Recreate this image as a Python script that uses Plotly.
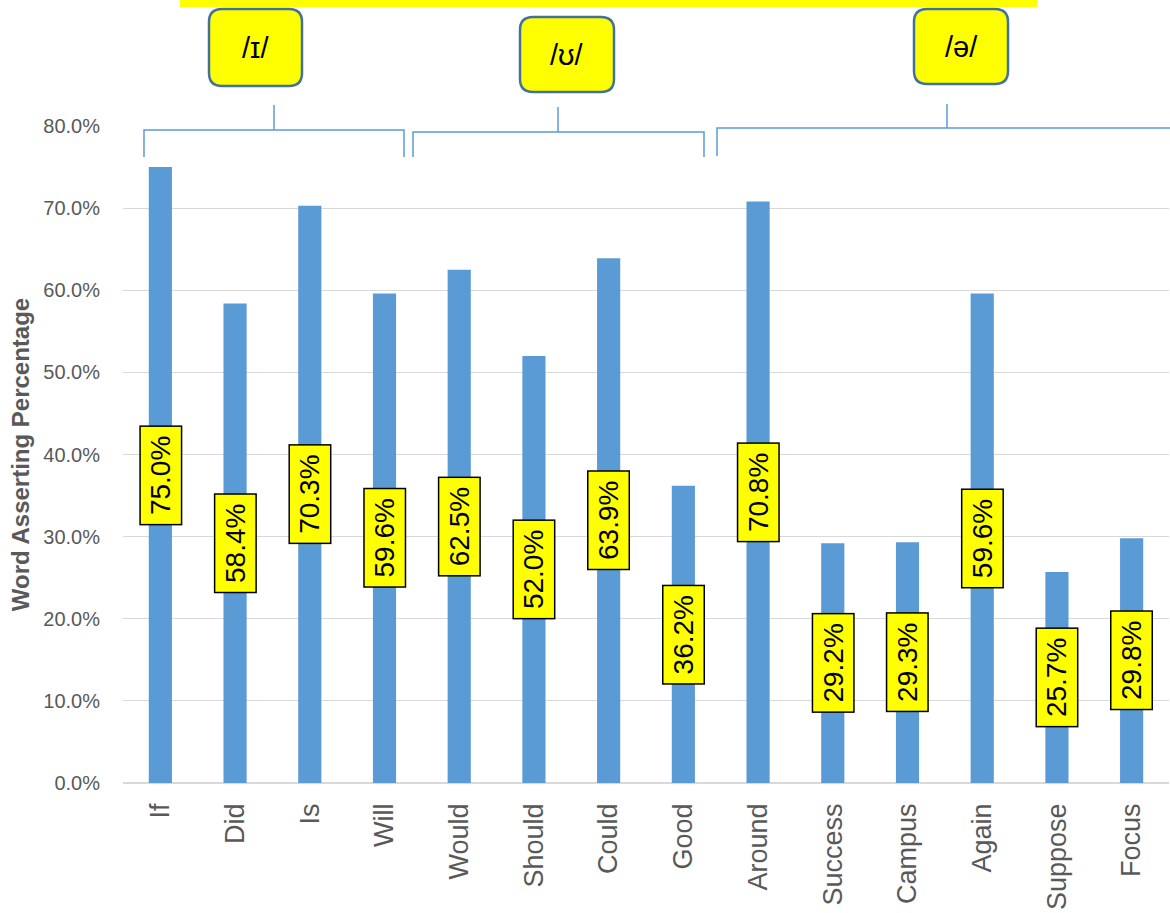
import plotly.graph_objects as go

# Words and the share of times each was asserted
words = ["If", "Did", "Is", "Will", "Would", "Should", "Could", "Good",
         "Around", "Success", "Campus", "Again", "Suppose", "Focus"]
percent = [75.0, 58.4, 70.3, 59.6, 62.5, 52.0, 63.9, 36.2,
           70.8, 29.2, 29.3, 59.6, 25.7, 29.8]

# Vowel groups shown above the bars
vowel_labels = ["/ɪ/", "/ʊ/", "/ə/"]

y_ticks = [0, 10, 20, 30, 40, 50, 60, 70, 80]
y_tick_text = [f"{t:.1f}%" for t in y_ticks]

W, H = 1170, 913
ML, MR, MT, MB = 123, 1, 126, 130
PW, PH = W - ML - MR, H - MT - MB

BAR_BLUE = "#5B9BD5"
YELLOW = "#FFFF00"
GREY_TEXT = "#595959"
GRID = "#D9D9D9"
FONT = "Liberation Sans, Arial, sans-serif"


def px(x):
    return (x - ML) / PW


def py(y):
    return (H - MB - y) / PH


fig = go.Figure()
fig.add_trace(go.Bar(
    x=words,
    y=[v / 100 for v in percent],
    marker=dict(color=BAR_BLUE, line=dict(width=0)),
    width=0.31,
    hoverinfo="x+y",
))

# Value labels: yellow boxes at the middle of each bar
annotations = []
for w, v in zip(words, percent):
    annotations.append(dict(
        x=w, y=v / 200, xref="x", yref="y",
        text=f"{v:.1f}%", textangle=-90, showarrow=False,
        font=dict(family=FONT, size=28, color="black"),
        bgcolor=YELLOW, bordercolor="black", borderwidth=1.5,
        borderpad=1, width=95, height=38,
    ))

shapes = []

# Yellow band along the top edge
shapes.append(dict(type="rect", xref="paper", yref="paper",
                   x0=px(180), x1=px(1037), y0=py(7), y1=py(0),
                   fillcolor=YELLOW, line=dict(width=0), layer="above"))


def rounded_box(x0, y0, x1, y1, r):
    pts = [
        f"M {px(x0 + r)},{py(y0)}",
        f"L {px(x1 - r)},{py(y0)}",
        f"Q {px(x1)},{py(y0)} {px(x1)},{py(y0 + r)}",
        f"L {px(x1)},{py(y1 - r)}",
        f"Q {px(x1)},{py(y1)} {px(x1 - r)},{py(y1)}",
        f"L {px(x0 + r)},{py(y1)}",
        f"Q {px(x0)},{py(y1)} {px(x0)},{py(y1 - r)}",
        f"L {px(x0)},{py(y0 + r)}",
        f"Q {px(x0)},{py(y0)} {px(x0 + r)},{py(y0)}",
        "Z",
    ]
    return " ".join(pts)


# Vowel callout boxes (left, top, right, bottom in pixels)
boxes = [(209, 9, 302, 86), (520, 17, 614, 92), (914, 9, 1008, 84)]
for (x0, y0, x1, y1), lab in zip(boxes, vowel_labels):
    shapes.append(dict(type="path", xref="paper", yref="paper",
                       path=rounded_box(x0, y0, x1, y1, 13),
                       fillcolor=YELLOW,
                       line=dict(color="#41719C", width=2.5), layer="above"))
    annotations.append(dict(
        x=px((x0 + x1) / 2), y=py((y0 + y1) / 2), xref="paper", yref="paper",
        xanchor="center", yanchor="middle",
        text=lab, showarrow=False,
        font=dict(family=FONT, size=29, color="black"),
    ))

# Group brackets: (left, right, bar y, leg bottom, tick x, tick top)
brackets = [(144, 404, 130, 157, 274, 105),
            (413, 704, 132, 157, 558, 107),
            (717, 1175, 128, 156, 947, 104)]
BR = dict(color=BAR_BLUE, width=1.5)
for xl, xr, yb, yleg, xt, yt in brackets:
    path = (f"M {px(xl)},{py(yleg)} L {px(xl)},{py(yb)} "
            f"L {px(xr)},{py(yb)} L {px(xr)},{py(yleg)}")
    shapes.append(dict(type="path", xref="paper", yref="paper", path=path,
                       line=BR, layer="above"))
    shapes.append(dict(type="line", xref="paper", yref="paper",
                       x0=px(xt), x1=px(xt), y0=py(yt), y1=py(yb),
                       line=BR, layer="above"))

fig.update_layout(
    width=W, height=H,
    margin=dict(l=ML, r=MR, t=MT, b=MB, autoexpand=False),
    paper_bgcolor="white", plot_bgcolor="white",
    showlegend=False, bargap=0.69,
    font=dict(family=FONT, color=GREY_TEXT),
    xaxis=dict(
        tickangle=-90, tickfont=dict(size=27, color=GREY_TEXT),
        showgrid=False, showline=False, ticks="", ticklabelstandoff=14,
        automargin=False,
    ),
    yaxis=dict(
        range=[0, 0.8], tickvals=[t / 100 for t in y_ticks],
        ticktext=y_tick_text, tickfont=dict(size=20, color=GREY_TEXT),
        showgrid=True, gridcolor=GRID, gridwidth=1.2,
        zeroline=True, zerolinecolor=GRID, zerolinewidth=1.8,
        ticks="", ticklabelstandoff=22, automargin=False,
        title=dict(text="<b>Word Asserting Percentage</b>",
                   font=dict(size=24, color=GREY_TEXT), standoff=6),
    ),
    annotations=annotations,
    shapes=shapes,
)

fig.write_html("out.html")
